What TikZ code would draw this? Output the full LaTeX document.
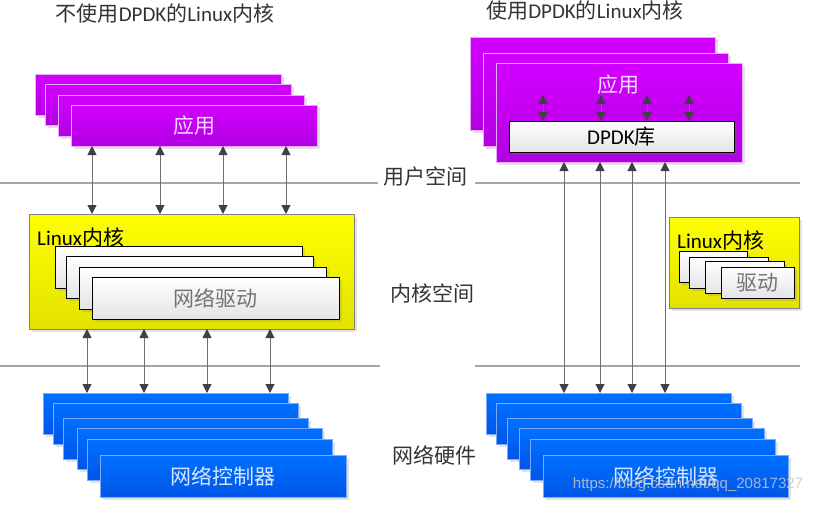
\documentclass[tikz,border=0pt]{standalone}
\usepackage{fontspec}
\setmainfont{Noto Sans CJK SC}
\newfontfamily\latnfont{Carlito}
\newfontfamily\wmfont{Liberation Sans}
\newcommand{\latn}[1]{{\latnfont #1}}
\usepackage{tikz}
\usetikzlibrary{arrows.meta, shadows}

\definecolor{appTop}{RGB}{210,0,255}
\definecolor{appBot}{RGB}{178,0,226}
\definecolor{appEdge}{RGB}{232,170,255}
\definecolor{appText}{RGB}{246,220,255}
\definecolor{nicTop}{RGB}{0,112,255}
\definecolor{nicBot}{RGB}{0,86,232}
\definecolor{nicEdge}{RGB}{120,170,255}
\definecolor{nicText}{RGB}{215,230,255}
\definecolor{kernTop}{RGB}{255,255,0}
\definecolor{kernBot}{RGB}{226,226,0}
\definecolor{drvBot}{RGB}{228,228,228}
\definecolor{lineGray}{RGB}{110,110,110}
\definecolor{tipGray}{RGB}{64,64,64}
\definecolor{sepGray}{RGB}{165,165,165}

\begin{document}
\begin{tikzpicture}[x=1pt, y=-1pt,
	box/.style={anchor=north west, inner sep=0pt, outer sep=0pt, line width=0.8pt,
		drop shadow={shadow xshift=2.5pt, shadow yshift=-2.5pt, opacity=0.22}},
	txt/.style={inner sep=2pt, font=\fontsize{21}{24}\selectfont},
	appbox/.style={box, draw=appEdge, top color=appTop, bottom color=appBot},
	nicbox/.style={box, draw=nicEdge, top color=nicTop, bottom color=nicBot},
	kernbox/.style={box, draw=gray, top color=kernTop, bottom color=kernBot},
	drvbox/.style={box, draw=black, top color=white, bottom color=drvBot},
	dbl/.style={{Triangle[length=9pt, width=9pt, color=tipGray]}-{Triangle[length=9pt, width=9pt, color=tipGray]},
		draw=lineGray, line width=1pt},
	sep/.style={draw=sepGray, line width=1.2pt}]
	\useasboundingbox (0,0) rectangle (820,504);

	% titles and layer names
	\node[txt, text=black!80] (titleL) at (165,14) {不使用\latn{DPDK}的\latn{Linux}内核};
	\node[txt, text=black!80] (titleR) at (585,11) {使用\latn{DPDK}的\latn{Linux}内核};
	\node[txt, text=black!80] (user) at (425,177) {用户空间};
	\node[txt, text=black!80] (kernel) at (432,293) {内核空间};
	\node[txt, text=black!80] (hw) at (434,455) {网络硬件};

	\draw[sep] (0,183) -- (378,183);
	\draw[sep] (475,183) -- (800,183);
	\draw[sep] (0,366) -- (380,366);
	\draw[sep] (475,366) -- (800,366);

	% left: without DPDK
	\foreach \n/\x/\y in {1/35/74, 2/45/84, 3/58/95}
		\node[appbox, minimum width=246, minimum height=41] (appL\n) at (\x,\y) {};
	\node[appbox, txt, inner sep=0pt, text=appText, minimum width=246, minimum height=41] (appL4) at (71,105) {应用};

	\node[kernbox, minimum width=325, minimum height=115] (kernL) at (29,214) {};
	\node[txt, anchor=west] (kernLtxt) at (35,237) {\latn{Linux}内核};
	\foreach \n/\x/\y in {1/55/246, 2/66/256, 3/79/267}
		\node[drvbox, minimum width=247, minimum height=42] (drvL\n) at (\x,\y) {};
	\node[drvbox, txt, inner sep=0pt, text=black!55, minimum width=247, minimum height=42] (drvL4) at (92,277) {网络驱动};

	\foreach \n/\x/\y in {1/43/393, 2/53/403, 3/63/418, 4/77/428, 5/87/439}
		\node[nicbox, minimum width=245, minimum height=41] (nicL\n) at (\x,\y) {};
	\node[nicbox, txt, inner sep=0pt, text=nicText, minimum width=246, minimum height=42] (nicL6) at (100,455) {网络控制器};

	\foreach \x in {92,160,223,286}
		\draw[dbl] (\x,0 |- appL4.south) -- (\x,0 |- kernL.north);
	\foreach \x in {87,144,207,270}
		\draw[dbl] (\x,0 |- kernL.south) -- (\x,0 |- nicL1.north);

	% right: with DPDK
	\node[appbox, minimum width=245, minimum height=93] (appR1) at (470,37) {};
	\node[appbox, minimum width=245, minimum height=93] (appR2) at (483,53) {};
	\node[appbox, minimum width=246, minimum height=99] (appR3) at (496,63) {};
	\node[txt, inner sep=0pt, text=appText] (appRtxt) at (618,85) {应用};
	\node[drvbox, txt, inner sep=0pt, minimum width=225, minimum height=31] (lib) at (509,121) {\latn{DPDK}库};

	\foreach \x in {543,601,647,689}
		\draw[dbl] (\x,0 |- appRtxt.south) -- (\x,0 |- lib.north);

	\node[kernbox, minimum width=130, minimum height=91] (kernR) at (669,217) {};
	\node[txt, anchor=west] (kernRtxt) at (675,240) {\latn{Linux}内核};
	\node[drvbox, minimum width=68, minimum height=31] (drvR1) at (679,251) {};
	\node[drvbox, minimum width=79, minimum height=31] (drvR2) at (689,257) {};
	\node[drvbox, minimum width=79, minimum height=32] (drvR3) at (705,261) {};
	\node[drvbox, txt, inner sep=0pt, text=black!55, minimum width=73, minimum height=31] (drvR4) at (721,267) {驱动};

	\foreach \n/\x/\y in {1/486/393, 2/496/403, 3/507/418, 4/519/428, 5/530/439}
		\node[nicbox, minimum width=245, minimum height=41] (nicR\n) at (\x,\y) {};
	\node[nicbox, txt, inner sep=0pt, text=nicText, minimum width=245, minimum height=42] (nicR6) at (543,455) {网络控制器};

	\foreach \x in {564,600,632,665}
		\draw[dbl] (\x,0 |- appR3.south) -- (\x,0 |- nicR1.north);

	\node[text=gray!45, opacity=0.85, font=\wmfont\fontsize{15}{17}\selectfont] (mark) at (688,485) {https://blog.csdn.net/qq\_20817327};
\end{tikzpicture}
\end{document}
